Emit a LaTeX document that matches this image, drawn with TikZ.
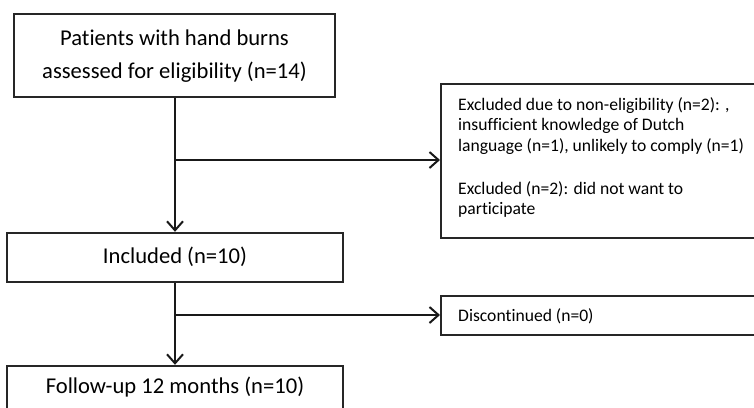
\documentclass[tikz,border=0pt]{standalone}
\usepackage{fontspec}
\setmainfont{Carlito}[Ligatures={NoCommon}]
\usetikzlibrary{arrows.meta}
\begin{document}
\begin{tikzpicture}[x=1pt,y=-1pt,
  box/.style={draw=black!85, line width=2.4pt, rectangle, inner sep=0pt},
  bigtext/.style={font=\fontsize{22.6}{27}\selectfont, inner sep=0pt, anchor=base},
  smalltext/.style={font=\fontsize{17.6}{20}\selectfont, inner sep=0pt, anchor=base west},
  conn/.style={draw=black!90, line width=2pt},
  arr/.style={conn, -{Straight Barb[length=9pt,width=16pt,line width=2pt]}}]
\useasboundingbox (0,0) rectangle (754,407);
\clip (0,0) rectangle (754,407);
\fill[white] (0,0) rectangle (754,407);
% main column boxes
\node[box, minimum width=321pt, minimum height=83pt] (b1) at (174.5,55.5) {};
\node[bigtext] (b1a) at (174.5,45) {Patients with hand burns};
\node[bigtext] (b1b) at (174.5,78) {assessed for eligibility (n=14)};
\node[box, minimum width=336pt, minimum height=49pt] (b2) at (175,257.5) {};
\node[bigtext] (b2t) at (175,263) {Included (n=10)};
\node[box, minimum width=336pt, minimum height=46pt] (b4) at (175,389) {};
\node[bigtext] (b4t) at (175,393) {Follow-up 12 months (n=10)};
% side boxes
\node[box, minimum width=360pt, minimum height=154pt, anchor=north west] (exc) at (440,83) {};
\node[smalltext] (e1) at (458,110) {Excluded due to non-eligibility (n=2): ,};
\node[smalltext] (e2) at (458,130.7) {insufficient knowledge of Dutch};
\node[smalltext] (e3) at (458,151.5) {language (n=1), unlikely to comply (n=1)};
\node[smalltext] (e4) at (458,194) {Excluded (n=2): did not want to};
\node[smalltext] (e5) at (458,214) {participate};
\node[box, minimum width=360pt, minimum height=39pt, anchor=north west] (dis) at (440,295) {};
\node[smalltext] (dist) at (458,321.5) {Discontinued (n=0)};
% connectors
\coordinate (j1) at (175,160);
\coordinate (j2) at (175,315);
\draw[arr] (b1.south -| j1) -- (b2.north -| j1);
\draw[arr] (j1) -- (exc.west |- j1);
\draw[arr] (b2.south -| j2) -- (b4.north -| j2);
\draw[arr] (j2) -- (dis.west |- j2);
\end{tikzpicture}
\end{document}
